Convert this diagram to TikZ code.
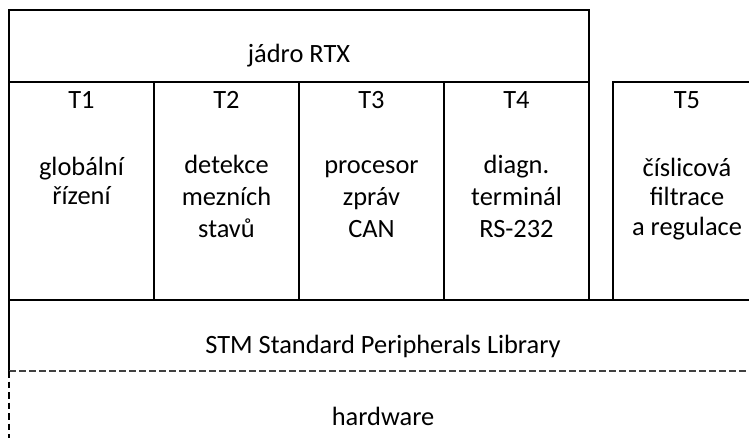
\documentclass[tikz,border=0pt]{standalone}
\usepackage{fontspec}
\setmainfont{Carlito}
\begin{document}
\begin{tikzpicture}[x=1pt,y=-1pt,
  frame/.style={line width=1.3pt, black},
  thickline/.style={line width=1.8pt, black},
  dashline/.style={line width=1.5pt, black!75, dash pattern=on 7pt off 3pt},
  dashvert/.style={line width=1.3pt, black, dash pattern=on 6.5pt off 4pt},
  lbl/.style={anchor=base, inner sep=0pt, font=\fontsize{26.4}{32}\selectfont}]
\useasboundingbox (0,0) rectangle (749,438);
% frames
\draw[frame] (9,371) -- (9,10) -- (589,10) -- (589,300);
\draw[frame] (9,82) -- (589,82);
\draw[frame] (154,82) -- (154,300);
\draw[frame] (299,82) -- (299,300);
\draw[frame] (444,82) -- (444,300);
\draw[frame] (613,300) -- (613,82) -- (749,82);
\draw[thickline] (9,300) -- (749,300);
\draw[dashline] (9,371) -- (749,371);
\draw[dashvert] (9,371) -- (9,438);
% texts
\node[lbl] (rtx) at (299,62.7) {jádro RTX};
\node[lbl] (t1) at (81.5,109) {T1};
\node[lbl] (t2) at (226.5,109) {T2};
\node[lbl] (t3) at (371.5,109) {T3};
\node[lbl] (t4) at (516.5,109) {T4};
\node[lbl] (t5) at (687,109) {T5};
\node[lbl] (t1a) at (81.5,176) {globální};
\node[lbl] (t1b) at (81.5,205) {řízení};
\node[lbl] (t2a) at (226.5,174) {detekce};
\node[lbl] (t2b) at (226.5,206) {mezních};
\node[lbl] (t2c) at (226.5,238) {stavů};
\node[lbl] (t3a) at (371.5,174) {procesor};
\node[lbl] (t3b) at (371.5,206) {zpráv};
\node[lbl] (t3c) at (371.5,238) {CAN};
\node[lbl] (t4a) at (516.5,174) {diagn.};
\node[lbl] (t4b) at (516.5,206) {terminál};
\node[lbl] (t4c) at (516.5,238) {RS-232};
\node[lbl] (t5a) at (687,177) {číslicová};
\node[lbl] (t5b) at (687,206) {filtrace};
\node[lbl] (t5c) at (687,236) {a regulace};
\node[lbl] (stm) at (383,353) {STM Standard Peripherals Library};
\node[lbl] (hw) at (383,425) {hardware};
\end{tikzpicture}
\end{document}
